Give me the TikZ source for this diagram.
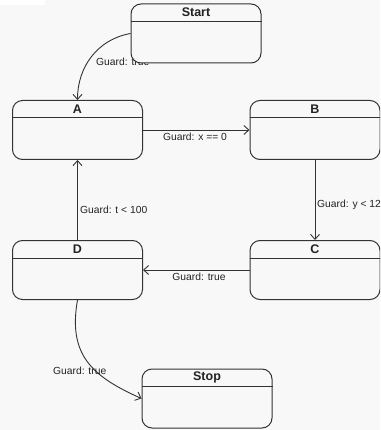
\documentclass[tikz,border=0pt]{standalone}
\usepackage{fontspec}
\setmainfont{Liberation Sans}
\usetikzlibrary{arrows.meta}
\definecolor{bgc}{HTML}{F8F8F8}
\definecolor{ln}{HTML}{333333}
\definecolor{tx}{HTML}{222222}
\tikzset{
  statebox/.style={draw=ln, line width=1pt, fill=bgc, rounded corners=10pt, minimum width=130pt, minimum height=59pt, inner sep=0pt},
  ttl/.style={font=\fontsize{12.5}{14}\selectfont\bfseries, text=tx, inner sep=0pt},
  lbl/.style={font=\fontsize{10.3}{12}\selectfont, text=tx, inner sep=0pt},
  arr/.style={draw=ln, line width=0.9pt, -{Straight Barb[length=5pt,width=9pt]}},
}
\newcommand{\mkstate}[3]{%
  \node[statebox] (#1) at (#2) {};
  \draw[ln, line width=1pt] ([yshift=-18pt]#1.north west) -- ([yshift=-18pt]#1.north east);
  \node[ttl] (#1t) at ([yshift=-9pt]#1.north) {#3};
}
\begin{document}
\begin{tikzpicture}[x=1pt,y=-1pt]
\useasboundingbox (0,0) rectangle (380,430);
\clip (0,0) rectangle (380,430);
\fill[bgc] (0,0) rectangle (380,430);
\fill[white] (0,0) rectangle (45,5);
% start label drawn under Start box
\node[lbl, anchor=west] (l1) at (96,62) {Guard: true};
\mkstate{Start}{196,33.5}{Start}
\mkstate{A}{77.5,130}{A}
\mkstate{B}{315,130}{B}
\mkstate{C}{315,270}{C}
\mkstate{D}{77.5,270}{D}
\mkstate{Stop}{207,398.5}{Stop}
\draw[arr] (Start.west) to[out=190, in=90] (A.north);
\draw[arr] (A.east) -- (B.west);
\draw[arr] (B.south) -- (C.north);
\draw[arr] (C.west) -- (D.east);
\draw[arr] (D.north) -- (A.south);
\draw[arr] (D.south) to[out=-100, in=156, looseness=1.2] (Stop.west);
\node[lbl] (l2) at (195,137) {Guard: x == 0};
\node[lbl, anchor=west] (l3) at (317,205) {Guard: y < 12};
\node[lbl, anchor=west] (l4) at (80,210) {Guard: t < 100};
\node[lbl] (l5) at (199,277) {Guard: true};
\node[lbl, anchor=west] (l6) at (53,371) {Guard: true};
\end{tikzpicture}
\end{document}
